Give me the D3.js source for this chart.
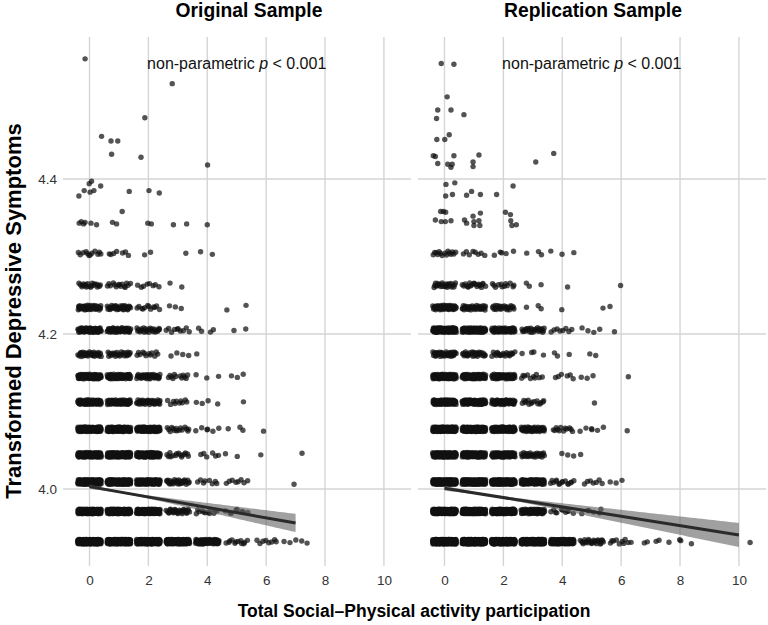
<!DOCTYPE html>
<html><head><meta charset="utf-8">
<script src="https://cdn.jsdelivr.net/npm/d3@7"></script>
<style>
body{margin:0;background:#fff;}
text{font-family:"Liberation Sans",Arial,Helvetica,sans-serif;}
</style>
</head><body>
<svg id="chart" width="768" height="625"></svg>
<script>
// ---------------- DATA ----------------
const samples = ["Original Sample", "Replication Sample"];
const xTicks = [0, 2, 4, 6, 8, 10];
const yTicks = [4.0, 4.2, 4.4];
const xValues = [0, 1, 2, 3, 4, 5, 6, 7, 8, 9, 10];
// transformed depressive-symptom levels (dense bands)
const levels = [3.932, 3.971, 4.009, 4.044, 4.077, 4.112, 4.145, 4.174, 4.205, 4.234, 4.263, 4.304];

// participant counts per band (rows = levels, cols = activity participation 0..10)
const countsOriginal = [
  [200,200,180,150,80,12,8,5,0,0,0],
  [150,150,130,30,12,8,0,0,0,0,0],
  [150,150,120,30,8,8,0,1,0,0,0],
  [120,120,100,15,6,2,1,1,0,0,0],
  [120,110,100,15,6,3,1,0,0,0,0],
  [80,70,40,10,4,1,0,0,0,0,0],
  [80,70,40,12,3,3,0,0,0,0,0],
  [35,25,12,4,1,0,0,0,0,0,0],
  [60,50,25,10,4,2,0,0,0,0,0],
  [45,35,12,3,0,2,0,0,0,0,0],
  [20,15,8,2,0,0,0,0,0,0,0],
  [12,7,2,1,2,0,0,0,0,0,0]
];
const countsReplication = [
  [250,250,220,200,150,25,10,4,4,0,0],
  [180,160,150,80,10,6,0,0,0,0,0],
  [180,160,150,100,15,7,3,0,0,0,0],
  [120,100,80,30,3,1,0,0,0,0,0],
  [130,120,100,50,12,6,1,0,0,0,0],
  [90,80,60,15,0,1,0,0,0,0,0],
  [90,80,60,10,6,3,1,0,0,0,0],
  [40,30,20,4,3,2,0,0,0,0,0],
  [100,80,60,25,8,4,1,0,0,0,0],
  [50,35,25,3,1,1,1,0,0,0,0],
  [25,20,12,3,1,0,1,0,0,0,0],
  [15,8,5,3,3,0,0,0,0,0,0]
];

// individual (already jittered) high-score participants [x, y]
const sparseOriginal = [
  [-0.15,4.555],[2.81,4.523],[1.88,4.479],[0.41,4.455],[0.73,4.449],[0.96,4.449],
  [0.75,4.432],[1.75,4.428],[4.01,4.418],[0.07,4.397],[-0.01,4.394],[0.38,4.391],
  [-0.18,4.385],[0.02,4.383],[0.15,4.385],[-0.36,4.378],[1.35,4.384],[2.02,4.385],
  [2.37,4.382],[1.11,4.358],
  [-0.35,4.343],[-0.28,4.345],[-0.2,4.342],[-0.15,4.344],[0.05,4.343],[0.24,4.341],
  [0.78,4.344],[0.92,4.342],[1.98,4.343],[2.1,4.342],[2.85,4.341],[3.3,4.342],[4.0,4.341]
];
const sparseReplication = [
  [-0.11,4.549],[0.32,4.548],[0.09,4.506],[-0.23,4.489],[0.22,4.489],[0.66,4.483],
  [-0.27,4.478],[0.16,4.457],[-0.26,4.451],[0.01,4.451],[-0.38,4.430],[-0.31,4.429],
  [0.32,4.430],[1.17,4.431],[3.71,4.433],[-0.23,4.420],[0.11,4.419],[0.26,4.419],
  [0.22,4.415],[0.97,4.422],[0.97,4.416],[3.10,4.422],[0.05,4.393],[0.35,4.395],
  [2.33,4.391],[0.04,4.378],[0.27,4.380],[0.75,4.379],[0.92,4.384],[1.22,4.380],
  [1.77,4.380],[-0.04,4.358],[0.04,4.357],[-0.13,4.358],[1.22,4.356],[0.97,4.352],
  [2.07,4.357],[2.24,4.354],[-0.31,4.347],[-0.11,4.345],[0.03,4.345],[0.22,4.346],
  [0.68,4.347],[0.75,4.343],[1.0,4.345],[1.17,4.346],[1.0,4.340],[1.2,4.340],
  [2.25,4.346],[2.29,4.340],[2.44,4.341],[10.38,3.931]
];

// linear fits
const fitIntercept = [4.003, 4.001];
const fitSlope = [-0.0067, -0.00604];
const fitXMax = [7, 10];
const ciCenter = [1.2, 1.5];
const ciMin = [0.0012, 0.0013];
const ciGrowth = [0.00202, 0.00182];

const annotation = ["non-parametric ", "p", " < 0.001"];
const annotationAt = [5, 4.55];

// ---------------- LAYOUT ----------------
const svg = d3.select("#chart");
const panelLeft = [63, 418];
const panelWidth = 348;
const plotTop = 37, plotBottom = 566;
const titleCenter = [249, 593];
const xDomain = [-0.9, 10.92];
const yDomain = [3.9006, 4.5832];
const gridColor = "#d5d5d5";

function halton(i, b) { let f = 1, r = 0; while (i > 0) { f /= b; r += f * (i % b); i = Math.floor(i / b); } return r; }

const countsAll = [countsOriginal, countsReplication];
const sparseAll = [sparseOriginal, sparseReplication];

samples.forEach((name, p) => {
  const g = svg.append("g").attr("transform", `translate(${panelLeft[p]},0)`);
  const x = d3.scaleLinear().domain(xDomain).range([0, panelWidth]);
  const y = d3.scaleLinear().domain(yDomain).range([plotBottom, plotTop]);

  // grid
  g.append("g").selectAll("line").data(xTicks).join("line")
    .attr("x1", d => x(d)).attr("x2", d => x(d)).attr("y1", plotTop).attr("y2", plotBottom)
    .attr("stroke", gridColor).attr("stroke-width", 1.4);
  g.append("g").selectAll("line").data(yTicks).join("line")
    .attr("x1", 0).attr("x2", panelWidth).attr("y1", d => y(d)).attr("y2", d => y(d))
    .attr("stroke", gridColor).attr("stroke-width", 1.4);

  // points (jittered like position_jitter: ±0.4 in x, small in y)
  const pts = [];
  let k = 1 + p * 5000;
  countsAll[p].forEach((row, li) => {
    row.forEach((n, xi) => {
      for (let j = 0; j < n; j++) {
        pts.push([xValues[xi] + (halton(k, 2) * 2 - 1) * 0.4,
                  levels[li] + (halton(k, 3) * 2 - 1) * 0.003]);
        k++;
      }
    });
  });
  sparseAll[p].forEach(d => pts.push(d));

  g.append("g").selectAll("circle").data(pts).join("circle")
    .attr("cx", d => x(d[0])).attr("cy", d => y(d[1])).attr("r", 2.7)
    .attr("fill", "#111").attr("fill-opacity", 0.72);

  // regression ribbon + line
  const xs = d3.range(0, fitXMax[p] + 1e-9, fitXMax[p] / 80);
  const fit = v => fitIntercept[p] + fitSlope[p] * v;
  const hw = v => Math.sqrt(ciMin[p] ** 2 + (ciGrowth[p] * (v - ciCenter[p])) ** 2);
  g.append("path").datum(xs)
    .attr("d", d3.area().x(v => x(v)).y0(v => y(fit(v) - hw(v))).y1(v => y(fit(v) + hw(v))))
    .attr("fill", "#666").attr("fill-opacity", 0.62);
  g.append("path").datum([0, fitXMax[p]])
    .attr("d", d3.line().x(v => x(v)).y(v => y(fit(v))))
    .attr("stroke", "#2a2a2a").attr("stroke-width", 3).attr("fill", "none");

  // annotation
  const t = g.append("text").attr("x", x(annotationAt[0])).attr("y", y(annotationAt[1]))
    .attr("text-anchor", "middle").attr("dominant-baseline", "central")
    .attr("font-size", 16).attr("fill", "#111");
  t.append("tspan").text(annotation[0]);
  t.append("tspan").attr("font-style", "italic").text(annotation[1]);
  t.append("tspan").text(annotation[2]);

  // x axis labels
  const ax = g.append("g").attr("transform", `translate(0,${plotBottom + 2})`)
    .call(d3.axisBottom(x).tickValues(xTicks).tickSize(0).tickPadding(7).tickFormat(d3.format("d")));
  ax.select(".domain").remove();
  ax.selectAll("text").attr("font-size", 13.5).attr("fill", "#333").style("font-family", "Liberation Sans, Arial, sans-serif");

  if (p === 0) {
    const ay = g.append("g")
      .call(d3.axisLeft(y).tickValues(yTicks).tickSize(0).tickPadding(6).tickFormat(d3.format(".1f")));
    ay.select(".domain").remove();
    ay.selectAll("text").attr("font-size", 13.5).attr("fill", "#333").style("font-family", "Liberation Sans, Arial, sans-serif");
  }

  // facet title
  svg.append("text").attr("x", titleCenter[p]).attr("y", 17)
    .attr("text-anchor", "middle").attr("font-weight", "bold").attr("font-size", 19.3)
    .attr("fill", "#000").text(name);
});

// axis titles
svg.append("text").attr("x", 414).attr("y", 617).attr("text-anchor", "middle")
  .attr("font-weight", "bold").attr("font-size", 17.5).attr("fill", "#000")
  .text("Total Social–Physical activity participation");
svg.append("text").attr("transform", "translate(21,311) rotate(-90)").attr("text-anchor", "middle")
  .attr("font-weight", "bold").attr("font-size", 22).attr("fill", "#000")
  .text("Transformed Depressive Symptoms");
</script>
</body></html>
